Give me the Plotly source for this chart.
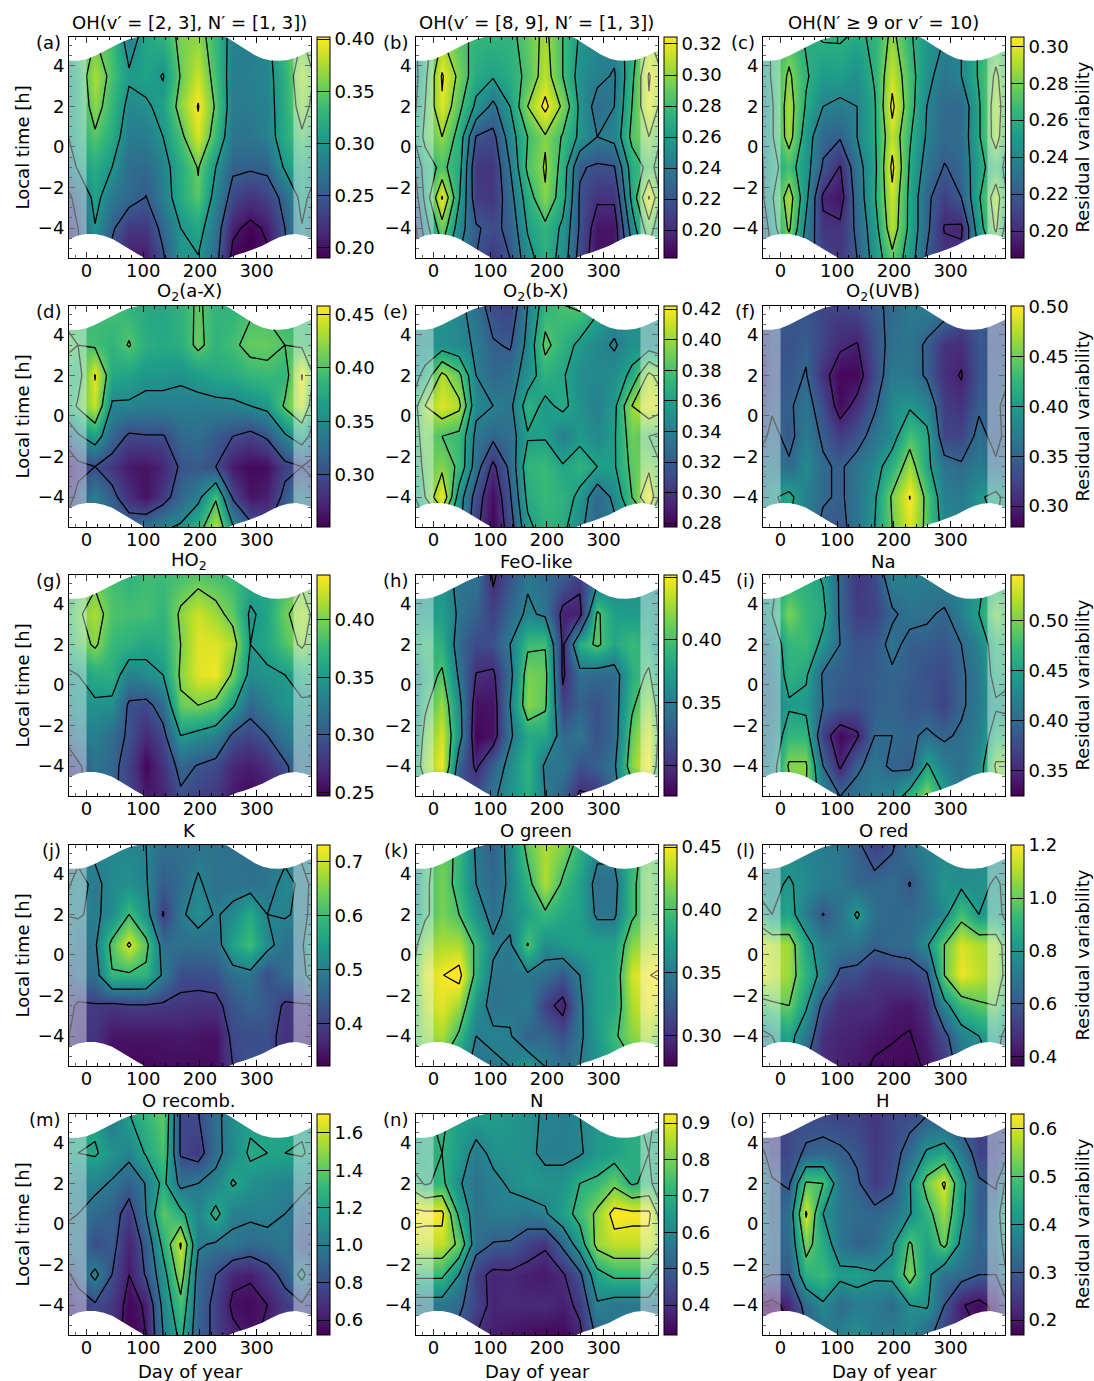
import numpy as np
import plotly.graph_objects as go

W, H = 1094, 1381

MONTH_DOY = [15, 45, 75, 105, 135, 166, 197, 228, 258, 289, 319, 350]
LOCAL_TIME = [5.5, 3.5, 2.0, 0.5, -1.0, -2.5, -4.0, -5.5]

TOP_DOY = [-46, -30, -15, 0, 15, 30, 45, 60, 75, 90, 105, 170, 235, 250, 265, 280, 295, 310, 325, 340, 355, 370, 385, 411]
TOP_EDGE = [4.33, 4.26, 4.26, 4.33, 4.5, 4.72, 4.93, 5.14, 5.32, 5.43, 5.55, 6.0, 5.55, 5.37, 5.1, 4.82, 4.56, 4.37, 4.27, 4.26, 4.3, 4.42, 4.62, 4.95]
BOT_DOY = [-46, -30, -15, 0, 15, 30, 45, 60, 75, 90, 105, 170, 250, 265, 280, 295, 310, 325, 340, 355, 370, 385, 411]
BOT_EDGE = [-4.75, -4.55, -4.37, -4.3, -4.3, -4.38, -4.53, -4.78, -5.05, -5.28, -5.52, -6.0, -5.5, -5.32, -5.2, -5.05, -4.88, -4.65, -4.45, -4.33, -4.3, -4.38, -4.65]

z_a = [[350,335,280,315,325,360,365,330,285,280,290,345],
       [375,339,305,312,298,352,385,335,280,282,287,325],
       [365,330,290,295,310,365,402,345,278,278,285,322],
       [345,320,278,280,300,340,390,330,273,272,283,320],
       [320,300,265,262,285,322,352,300,256,254,257,305],
       [312,275,262,249,280,320,345,285,236,222,232,260],
       [298,255,225,225,260,300,315,270,207,192,205,250],
       [280,240,205,205,245,300,298,262,190,185,195,245]]
z_b = [[300,285,276,275,274,290,305,280,258,248,248,270],
       [322,295,268,262,270,285,310,280,252,245,238,275],
       [318,285,256,235,260,300,325,296,256,232,240,280],
       [300,272,219,214,250,280,298,278,256,240,246,285],
       [285,268,205,205,240,284,302,272,222,217,219,270],
       [322,262,208,205,232,270,298,268,218,203,203,265],
       [292,250,222,215,225,262,275,256,218,190,190,250],
       [270,240,220,205,220,252,272,252,212,188,190,235]]
z_c = [[270,258,262,262,258,262,285,262,250,240,240,262],
       [283,262,250,252,245,262,295,268,245,232,240,262],
       [289,258,240,235,240,258,304,268,240,226,226,258],
       [288,250,225,222,240,258,294,262,238,226,228,258],
       [268,248,218,199,232,255,304,258,232,219,225,255],
       [290,245,197,192,228,258,296,255,224,208,220,258],
       [283,236,204,203,224,252,292,255,224,199,197,252],
       [262,230,210,205,220,248,275,250,218,205,205,240]]
z_d = [[390,398,385,375,372,385,405,385,385,395,395,385],
       [395,385,402,380,375,380,408,385,395,408,408,400],
       [452,375,370,360,360,355,365,375,378,388,392,385],
       [440,345,345,340,340,340,338,340,342,350,360,405],
       [370,320,295,298,298,320,325,310,300,290,305,345],
       [300,285,265,262,272,305,310,300,265,256,258,290],
       [340,310,278,260,285,320,340,395,295,262,268,310],
       [340,330,320,330,345,355,385,435,355,310,300,320]]
z_e = [[350,345,330,310,305,340,370,380,385,365,350,350],
       [350,345,338,322,318,345,385,370,355,345,338,350],
       [405,385,340,325,330,350,370,362,348,345,348,365],
       [415,405,345,340,335,370,355,365,350,340,355,400],
       [380,375,335,325,330,358,358,340,355,345,358,390],
       [395,375,330,295,325,372,375,362,370,360,358,385],
       [420,350,312,282,318,365,375,370,355,325,345,380],
       [370,345,305,280,310,355,370,365,345,325,335,355]]
z_f = [[340,335,325,325,330,345,355,370,375,375,340,345],
       [335,345,325,305,298,335,360,365,345,312,308,340],
       [340,352,310,283,283,330,370,368,345,310,298,338],
       [345,365,330,285,310,345,385,395,380,320,312,345],
       [340,370,345,320,335,365,385,435,410,325,325,360],
       [355,385,355,345,365,385,420,470,410,365,355,372],
       [410,375,355,345,365,395,455,501,440,375,370,395],
       [400,375,340,340,365,400,450,490,440,385,375,385]]
z_g = [[390,380,372,378,378,380,385,380,375,368,360,378],
       [415,385,380,382,372,405,425,410,390,345,360,395],
       [405,375,370,360,365,400,430,430,415,350,360,385],
       [365,368,330,340,350,405,430,435,395,340,345,350],
       [345,342,295,290,315,395,400,390,355,310,330,345],
       [330,315,295,270,290,350,340,330,295,287,300,325],
       [320,310,285,250,275,310,298,290,268,262,272,295],
       [320,305,290,260,265,295,285,280,260,250,262,285]]
z_h = [[365,340,345,295,320,345,335,330,310,330,350,360],
       [375,345,330,310,335,355,345,292,290,405,375,370],
       [385,335,315,320,350,395,398,295,385,405,380,395],
       [405,345,299,295,340,415,410,295,340,335,335,385],
       [425,360,285,285,350,420,405,310,330,320,335,395],
       [440,365,278,285,345,380,380,335,345,320,335,410],
       [450,330,295,330,360,390,345,345,320,330,345,420],
       [400,320,320,345,365,385,350,330,295,300,340,380]]
z_i = [[460,465,445,395,360,375,425,420,420,425,430,445],
       [500,470,460,395,365,370,395,410,405,395,420,450],
       [470,475,440,400,380,385,410,390,390,385,400,425],
       [465,455,395,390,385,390,395,390,380,375,395,415],
       [445,440,400,385,380,390,395,385,385,370,395,415],
       [470,470,365,330,345,400,400,395,405,395,405,420],
       [505,505,400,345,395,410,395,390,455,420,405,430],
       [480,500,425,400,410,420,425,470,505,450,410,440]]
z_j = [[510,515,510,500,470,470,475,480,470,470,470,480],
       [490,515,525,505,440,465,510,470,480,470,480,515],
       [490,520,600,530,395,490,525,495,515,570,500,505],
       [490,620,710,620,470,470,470,470,560,600,520,470],
       [470,595,590,585,490,420,420,430,470,480,420,465],
       [395,385,395,395,390,385,380,380,430,450,440,390],
       [385,345,345,345,345,350,345,340,415,420,420,380],
       [370,340,330,330,335,335,335,335,400,430,420,380]]
z_k = [[410,395,345,330,360,410,430,420,390,360,360,390],
       [415,390,350,335,355,390,430,395,375,340,340,395],
       [415,400,365,340,360,375,395,380,375,345,345,395],
       [430,430,395,355,345,402,360,370,375,375,375,420],
       [449,460,390,345,345,345,340,325,350,375,380,440],
       [445,425,365,340,345,348,310,290,345,375,380,430],
       [430,395,350,355,352,330,335,320,345,370,395,420],
       [395,365,340,345,350,370,350,340,350,365,380,395]]
z_l = [[760,730,720,690,620,520,580,690,740,750,760,760],
       [810,770,720,700,640,640,660,595,700,800,770,780],
       [850,710,595,680,820,670,640,650,680,760,950,800],
       [1080,850,720,700,680,620,650,660,780,1000,1150,1100],
       [1070,900,750,570,560,500,510,530,580,1000,1180,1120],
       [1000,820,560,480,470,470,430,420,480,750,920,980],
       [850,700,480,450,440,420,405,395,440,560,730,800],
       [820,600,470,440,420,390,385,380,410,510,660,720]]
z_m = [[1150,980,1200,1300,1400,780,800,950,1100,1150,1200,1200],
       [1220,1120,1050,1220,1350,780,720,950,1080,1230,1200,1200],
       [1050,980,880,1010,1250,950,1000,1050,1220,1120,1080,1050],
       [920,880,720,1000,1400,1250,1050,1260,1020,1030,1040,1000],
       [800,860,640,860,1250,1620,1020,980,980,920,950,1000],
       [1050,800,600,820,1120,1500,920,800,640,620,720,860],
       [780,720,540,620,1050,1350,900,750,570,550,600,720],
       [820,700,520,600,1000,1250,880,760,640,580,620,760]]
z_n = [[720,660,660,660,640,620,590,580,600,640,660,690],
       [700,650,570,620,630,620,580,580,590,640,660,690],
       [720,610,550,580,610,640,630,630,700,720,780,690],
       [920,680,550,570,575,560,590,660,730,820,930,920],
       [870,780,540,495,490,440,410,520,650,830,870,870],
       [720,600,430,380,385,370,360,390,480,670,720,720],
       [560,520,440,380,390,385,390,370,420,590,560,560],
       [560,470,400,370,350,340,330,330,380,520,560,590]]
z_o = [[280,270,270,260,260,240,270,270,290,280,250,250],
       [270,310,320,310,290,250,270,330,410,440,360,260],
       [290,510,500,345,310,250,280,395,530,610,430,310],
       [340,610,400,350,330,320,340,395,470,560,420,300],
       [330,530,450,350,310,330,390,510,430,520,380,320],
       [300,460,480,420,430,410,420,540,420,340,330,300],
       [220,330,390,330,360,360,330,400,410,300,205,180],
       [190,290,340,380,400,360,370,380,320,260,220,200]]

TITLES = ["OH(v′ = [2, 3], N′ = [1, 3])", "OH(v′ = [8, 9], N′ = [1, 3])", "OH(N′ ≥ 9 or v′ = 10)",
          "O<sub>2</sub>(a-X)", "O<sub>2</sub>(b-X)", "O<sub>2</sub>(UVB)",
          "HO<sub>2</sub>", "FeO-like", "Na",
          "K", "O green", "O red",
          "O recomb.", "N", "H"]
LABELS = ["(a)", "(b)", "(c)", "(d)", "(e)", "(f)", "(g)", "(h)", "(i)", "(j)", "(k)", "(l)", "(m)", "(n)", "(o)"]
GRIDS = [z_a, z_b, z_c, z_d, z_e, z_f, z_g, z_h, z_i, z_j, z_k, z_l, z_m, z_n, z_o]
ZMIN = [.19, .182, .1854, .251, .2775, .279, .247, .276, .325, .322, .276, .366, .52, .318, .169]
ZMAX = [.402, .3245, .305, .458, .422, .501, .439, .4516, .545, .731, .4516, 1.2, 1.70, .925, .631]
LEVEL_START = [.20, .20, .20, .30, .28, .30, .25, .30, .35, .4, .30, .4, .6, .4, .2]
LEVEL_STOP = [.40, .32, .30, .45, .42, .50, .40, .45, .50, .7, .45, 1.2, 1.6, .9, .6]
LEVEL_STEP = [.05, .02, .02, .05, .02, .05, .05, .05, .05, .1, .05, .2, .2, .1, .1]
TICK_FORMAT = [".2f"] * 9 + [".1f", ".2f", ".1f", ".1f", ".1f", ".1f"]

X_TICKS = [0, 100, 200, 300]
Y_TICKS = [-4, -2, 0, 2, 4]
X_RANGE = [-31, 396]
Y_RANGE = [-5.48, 5.43]
FONT = "DejaVu Sans"
FS = 18

COL_LEFT = [69, 416, 763]
ROW_TOP = [37, 306, 575, 845, 1114]
PW, PH = 242, 221
CB_GAP, CB_W = 6, 13

def px(x):
    return x / W

def py(y):
    return 1 - y / H

fig = go.Figure()
annotations = []
shapes = []
layout = {}

doy = [MONTH_DOY[-2] - 365, MONTH_DOY[-1] - 365] + MONTH_DOY + [MONTH_DOY[0] + 365, MONTH_DOY[1] + 365]
lt = LOCAL_TIME[::-1]

for i, grid in enumerate(GRIDS):
    row, col = divmod(i, 3)
    left, top = COL_LEFT[col], ROW_TOP[row]
    suffix = "" if i == 0 else str(i + 1)
    xa, ya = "x" + suffix, "y" + suffix
    z = np.array(grid[::-1], dtype=float) / 1000
    z = np.hstack([z[:, -2:], z, z[:, :2]])
    ticks = list(np.arange(LEVEL_START[i], LEVEL_STOP[i] + LEVEL_STEP[i] / 2, LEVEL_STEP[i]).round(3))

    fig.add_trace(go.Heatmap(
        x=doy, y=lt, z=z, xaxis=xa, yaxis=ya, zsmooth="best",
        colorscale="Viridis", zmin=ZMIN[i], zmax=ZMAX[i], hoverinfo="skip",
        colorbar=dict(
            x=px(left + PW + CB_GAP), xanchor="left", xpad=0, ypad=0,
            y=py(top + PH), yanchor="bottom", len=PH / H, lenmode="fraction",
            thickness=CB_W, thicknessmode="pixels",
            outlinewidth=1, outlinecolor="black", borderwidth=0,
            tickmode="array", tickvals=ticks, tickformat=TICK_FORMAT[i],
            ticks="inside", ticklen=CB_W, tickwidth=1.2, tickcolor="black",
            tickfont=dict(family=FONT, size=FS, color="black"),
        ),
    ))
    fig.add_trace(go.Contour(
        x=doy, y=lt, z=z, xaxis=xa, yaxis=ya, showscale=False, hoverinfo="skip",
        autocontour=False, zmin=ZMIN[i], zmax=ZMAX[i],
        contours=dict(coloring="lines", start=LEVEL_START[i], end=LEVEL_STOP[i], size=LEVEL_STEP[i]),
        colorscale=[[0, "black"], [1, "black"]],
        line=dict(color="black", width=1.3, smoothing=0),
    ))
    fig.add_trace(go.Scatter(
        x=TOP_DOY + [TOP_DOY[-1], TOP_DOY[0]], y=TOP_EDGE + [9, 9],
        xaxis=xa, yaxis=ya, mode="lines", line=dict(width=0), fill="toself",
        fillcolor="white", hoverinfo="skip", showlegend=False,
    ))
    fig.add_trace(go.Scatter(
        x=BOT_DOY + [BOT_DOY[-1], BOT_DOY[0]], y=BOT_EDGE + [-9, -9],
        xaxis=xa, yaxis=ya, mode="lines", line=dict(width=0), fill="toself",
        fillcolor="white", hoverinfo="skip", showlegend=False,
    ))

    for x0, x1 in ((X_RANGE[0], 0), (365, X_RANGE[1])):
        shapes.append(dict(type="rect", xref=xa, yref=ya, x0=x0, x1=x1, y0=Y_RANGE[0], y1=Y_RANGE[1],
                           fillcolor="white", opacity=0.4, line_width=0, layer="above"))

    axis_common = dict(
        showgrid=False, zeroline=False, showline=True, linecolor="black", linewidth=1,
        mirror="allticks", ticks="inside", ticklen=6, tickwidth=1.2, tickcolor="black",
        tickfont=dict(family=FONT, size=FS, color="black"),
    )
    layout["xaxis" + suffix] = dict(
        axis_common, domain=[px(left), px(left + PW)], range=X_RANGE, anchor=ya,
        tickmode="array", tickvals=X_TICKS, ticklabelstandoff=-4,
        minor=dict(dtick=20, ticklen=3, ticks="inside", tickwidth=1, tickcolor="black", showgrid=False),
    )
    layout["yaxis" + suffix] = dict(
        axis_common, domain=[py(top + PH), py(top)], range=Y_RANGE, anchor=xa,
        tickmode="array", tickvals=Y_TICKS,
        minor=dict(dtick=0.5, ticklen=3, ticks="inside", tickwidth=1, tickcolor="black", showgrid=False),
    )

    def note(text, x, y, xanchor="center", angle=0):
        annotations.append(dict(text=text, x=px(x), y=py(y), xref="paper", yref="paper",
                                xanchor=xanchor, yanchor="middle", showarrow=False, textangle=angle,
                                font=dict(family=FONT, size=FS, color="black")))

    note(TITLES[i], left + PW / 2 - 1, top - 14)
    note(LABELS[i], left - 6, top + 5, xanchor="right")
    if col == 0:
        note("Local time [h]", 22, top + PH / 2, angle=-90)
    if col == 2:
        note("Residual variability", 1082, top + PH / 2, angle=-90)
    if row == 4:
        note("Day of year", left + PW / 2, 1371)

fig.update_layout(
    width=W, height=H, margin=dict(l=0, r=0, t=0, b=0), paper_bgcolor="white", plot_bgcolor="white",
    showlegend=False, annotations=annotations, shapes=shapes, **layout,
)
fig.write_html("out.html", config={"displayModeBar": False}, post_script="document.body.style.margin='0';")
